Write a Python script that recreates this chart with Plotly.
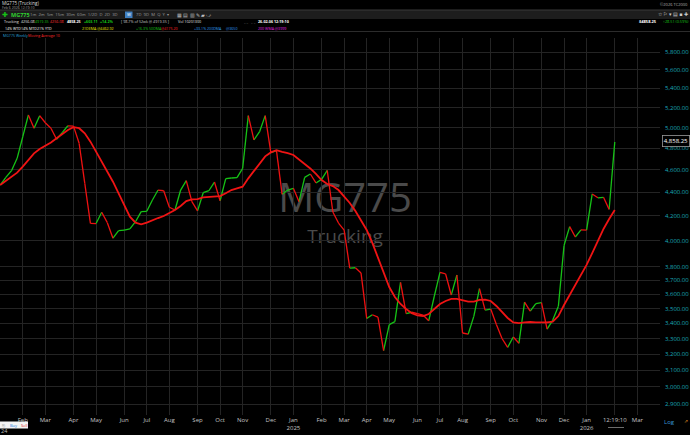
import math
import pandas as pd
import plotly.graph_objects as go

# ---------------- data ----------------
dates = pd.date_range("2024-01-05", periods=110, freq="7D")

close = [4464, 4532, 4592, 4705, 4909, 5124, 4992, 5117, 5046, 4992,
         4885, 4948, 5016, 5013, 4846, 4479, 4140, 4138, 4231, 4145,
         4020, 4080, 4084, 4094, 4153, 4236, 4239, 4334, 4420, 4414,
         4273, 4250, 4420, 4502, 4320, 4242, 4397, 4414, 4490, 4328,
         4521, 4526, 4529, 4613, 5117, 4878, 4958, 5117, 4757, 4776,
         4383, 4420, 4435, 4320, 4532, 4562, 4482, 4514, 4595, 4233,
         4142, 4084, 3791, 3793, 3754, 3433, 3458, 3442, 3222, 3391,
         3411, 3686, 3465, 3475, 3465, 3456, 3417, 3588, 3758, 3747,
         3595, 3739, 3336, 3328, 3447, 3641, 3490, 3497, 3392, 3300,
         3243, 3310, 3269, 3545, 3483, 3535, 3542, 3361, 3422, 3517,
         3963, 4113, 4030, 4086, 4084, 4386, 4353, 4357, 4255.14, 4858.25]

ma10 = [4464, 4499, 4538, 4574, 4629, 4689, 4751, 4792, 4821, 4853,
        4895, 4937, 4975, 5002, 4992, 4942, 4862, 4767, 4674, 4583,
        4493, 4392, 4292, 4194, 4145, 4132, 4145, 4167, 4183, 4200,
        4222, 4250, 4284, 4325, 4340, 4342, 4357, 4362, 4368, 4368,
        4392, 4420, 4435, 4449, 4523, 4589, 4660, 4723, 4760, 4780,
        4764, 4754, 4736, 4696, 4652, 4612, 4562, 4508, 4473, 4455,
        4420, 4368, 4309, 4242, 4167, 4086, 3983, 3866, 3754, 3652,
        3581, 3532, 3497, 3469, 3453, 3449, 3463, 3497, 3532, 3553,
        3567, 3567, 3556, 3549, 3549, 3560, 3563, 3553, 3518, 3476,
        3436, 3406, 3402, 3406, 3409, 3406, 3406, 3406, 3412, 3449,
        3525, 3595, 3666, 3747, 3814, 3904, 3998, 4094, 4175, 4250]

y_ticks = [2900, 3000, 3100, 3200, 3300, 3400, 3500, 3600, 3700, 3800,
           4000, 4200, 4400, 4600, 4800, 5000, 5200, 5400, 5600, 5800]
y_ticktext = [f"{v:,.2f}" for v in y_ticks]

last_price = 4858.25
time_label = "12:19:10"
extra_tick_date = pd.Timestamp("2026-03-06")

# ---------------- segments coloured by direction ----------------
up_x, up_y, dn_x, dn_y = [], [], [], []
for i in range(1, len(close)):
    if close[i] >= close[i - 1]:
        up_x += [dates[i - 1], dates[i], None]
        up_y += [close[i - 1], close[i], None]
    else:
        dn_x += [dates[i - 1], dates[i], None]
        dn_y += [close[i - 1], close[i], None]

# ---------------- x ticks: first weekly bar of each month ----------------
tick_vals, tick_text = [], []
seen = set()
for d in dates:
    key = (d.year, d.month)
    if key in seen:
        continue
    seen.add(key)
    if d == dates[0]:
        continue
    tick_vals.append(d)
    if d == dates[-1]:
        tick_text.append(time_label)
    elif d.month == 1:
        tick_text.append(f"{d.strftime('%b')}<br>{d.year}")
    else:
        tick_text.append(d.strftime("%b"))
tick_vals.append(extra_tick_date)
tick_text.append(extra_tick_date.strftime("%b"))

GREEN = "#16c216"
RED = "#ee1111"
GRID = "#242424"
FONT = "Open Sans"

fig = go.Figure()
fig.add_trace(go.Scatter(x=up_x, y=up_y, mode="lines", line=dict(color=GREEN, width=1.3),
                         hoverinfo="skip", showlegend=False))
fig.add_trace(go.Scatter(x=dn_x, y=dn_y, mode="lines", line=dict(color=RED, width=1.3),
                         hoverinfo="skip", showlegend=False))
fig.add_trace(go.Scatter(x=list(dates), y=ma10, mode="lines", line=dict(color="#f01414", width=1.8),
                         hoverinfo="skip", showlegend=False))

# ---------------- layout geometry (pixels) ----------------
PW, PT, PB = 660, 38, 415
PH = PB - PT


def P(x, y):
    return dict(x=x / PW, y=1 - (y - PT) / PH, xref="paper", yref="paper")


annotations = []
shapes = []


def txt(x, y, s, color, size=4, anchor="left", **kw):
    d = P(x, y)
    d.update(text=s, showarrow=False, xanchor=anchor, yanchor="middle",
             font=dict(size=size, color=color, family=FONT), borderpad=0)
    d.update(kw)
    annotations.append(d)


def rect(x0, y0, x1, y1, fill, line=None, layer="above", **kw):
    a = P(x0, y1)
    b = P(x1, y0)
    s = dict(type="rect", xref="paper", yref="paper", x0=a["x"], y0=a["y"], x1=b["x"], y1=b["y"],
             fillcolor=fill, line=dict(width=0 if line is None else 0.8, color=line or fill), layer=layer)
    s.update(kw)
    shapes.append(s)


def hline(x0, x1, y, color, width=1):
    a = P(x0, y)
    b = P(x1, y)
    shapes.append(dict(type="line", xref="paper", yref="paper", x0=a["x"], x1=b["x"], y0=a["y"], y1=b["y"],
                       line=dict(color=color, width=width), layer="above"))


# watermark (below the lines)
rect(230, 178, 460, 220, "rgba(0,0,0,0)", layer="below",
     label=dict(text="MG775", font=dict(size=40, color="#4a4a4a", family=FONT), textposition="middle center"))
rect(280, 225, 410, 249, "rgba(0,0,0,0)", layer="below",
     label=dict(text="Trucking", font=dict(size=19, color="#4a4a4a", family=FONT), textposition="middle center"))

# header
txt(1, 2.8, "MG775 (Trucking)", "#dddddd", 4.5)
txt(1, 7.4, "Feb 6 2026 12:19:10", "#a0a0a0", 3.5)
txt(689, 4.2, "©2026 TC2000", "#b0b0b0", 4, anchor="right")

rect(0, 10, 690, 19, "#1d1d1d")
hline(0, 690, 10, "#3a3a3a", 1)
txt(1, 14.8, "✚", GREEN, 7)
txt(9.5, 14.8, "<b>MG775</b>", "#2fd02f", 5.5)
txt(29, 14.8, "1m  2m  5m  15m  30m  60m  1/2D  D  2D  3D", "#9a9a9a", 4.2)
rect(125, 11.5, 132.5, 18, "#3f7fc0")
txt(128.7, 14.8, "W", "#ffffff", 4.2, anchor="center")
txt(134.5, 14.8, "7D  9D  M  Q  Y  ▾", "#9a9a9a", 4.2)
txt(176, 14.8, "▦ ▤ ▥ ✎ ▰ ⤻", "#bdbdbd", 5)
txt(689, 14.3, "☆ ⚐ ▾ ▤ ■ ✚", "#cfcfcf", 5, anchor="right")

row4 = [(3, "Trucking", "#e0e0e0"), (20, "4256.08", "#e0e0e0"), (34, "4919.35", GREEN),
        (49, "4256.08", "#ff3030"), (66, "<b>4858.25</b>", "#ffffff"), (83, "<b>+603.11</b>", GREEN),
        (99, "<b>+14.2%</b>", GREEN), (120, "[ 98.7% of 52wk @ 4919.35 ]", "#c8c8c8"),
        (177, "Vol 10201300", "#e0e0e0"), (243, "_ _   _ _", "#888888"),
        (257, "<b>26-02-06 12:19:10</b>", "#ffffff")]
for x, s, c in row4:
    txt(x, 21.7, s, c, 3.7)
txt(658, 21.7, "<b>$4858.25</b>", "#ffffff", 4, anchor="right")
txt(689, 21.7, "↑28.51 (0.59%)", GREEN, 3.8, anchor="right")

row5 = [(4, "14% WTD", "#ffffff"), (20, "14% MTD", "#ffffff"), (36, "21% YTD", "#ffffff"),
        (81, "21DEMA @4462.92", "#e6e600"), (135, "+16.3% 50DMA", GREEN),
        (160, "@4175.20", "#ff2020"), (193, "+33.1% 200DMA", "#2e9ff0"),
        (225, "@3650", "#2e9ff0"), (257, "200 WMA @3999", "#e020e0")]
for x, s, c in row5:
    txt(x, 28.3, s, c, 3.6)
hline(0, 690, 31.5, "#2c2c2c", 1)
txt(2, 35.7, "MG775 Weekly", "#2aa3dc", 3.6)
txt(27, 35.7, "Moving Average 10", "#ff2a2a", 3.6)

# current price flag
txt(676, 141, "4,858.25", "#ffffff", 6, anchor="center", bordercolor="#9a9a9a", borderwidth=0.8,
    bgcolor="#000000", borderpad=1)

# bottom extras
txt(663, 422, "Log", "#3a9ad9", 6)
txt(689, 421.5, "⇗", "#d08020", 5, anchor="right")
rect(0, 421.5, 28, 428.5, "#f4f4f4")
txt(1, 425, "⎘", "#777777", 4)
txt(9, 425, "Buy", "#2a7fe0", 4)
txt(20, 425, "Sell", "#e02020", 4)
txt(0, 431, "24", "#bdbdbd", 5.5)
hline(608, 624, 427.5, "#888888", 0.8)

fig.update_layout(
    width=690, height=435,
    margin=dict(l=0, r=690 - PW, t=PT, b=435 - PB),
    paper_bgcolor="#000000",
    plot_bgcolor="rgba(0,0,0,0)",
    showlegend=False,
    annotations=annotations,
    shapes=shapes,
    font=dict(family=FONT),
    xaxis=dict(
        type="date",
        range=["2024-01-04 18:00", "2026-04-03 03:36"],
        tickvals=tick_vals, ticktext=tick_text,
        tickfont=dict(size=6, color="#c4c4c4", family=FONT),
        showgrid=True, gridcolor=GRID, gridwidth=1,
        zeroline=False, showline=False, ticks="", fixedrange=True,
    ),
    yaxis=dict(
        type="log", side="right",
        range=[math.log10(2838.7), math.log10(5962)],
        tickvals=y_ticks, ticktext=y_ticktext,
        tickfont=dict(size=6, color="#19a8b8", family=FONT),
        ticklabelstandoff=4,
        showgrid=True, gridcolor=GRID, gridwidth=1,
        zeroline=False, showline=False, ticks="", fixedrange=True,
    ),
)

fig.write_html(
    "out.html",
    config={"displayModeBar": False},
    post_script="document.body.style.margin='0';document.body.style.background='#000';"
                "document.body.style.overflow='hidden';",
)
